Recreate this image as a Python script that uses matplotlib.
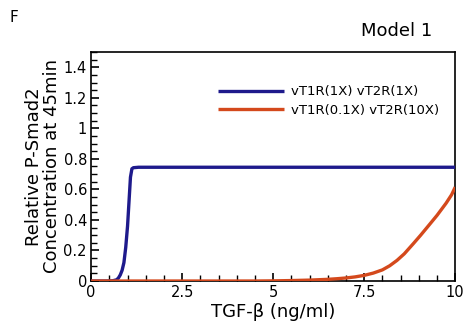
import matplotlib
matplotlib.use("Agg")
import matplotlib.pyplot as plt
from matplotlib.ticker import MultipleLocator

# TGF-beta dose (ng/ml) and relative P-Smad2 at 45 min
x_wt = [0, 0.5, 0.6, 0.7, 0.75, 0.8, 0.85, 0.9, 0.95, 1.0, 1.04, 1.08, 1.12, 1.16, 1.3, 2.0, 5.0, 10.0]
y_wt = [0, 0, 0.002, 0.008, 0.02, 0.04, 0.07, 0.12, 0.22, 0.36, 0.52, 0.68, 0.735, 0.742, 0.745, 0.745, 0.745, 0.745]

x_mut = [0, 4.5, 5.0, 5.5, 6.0, 6.5, 6.75, 7.0, 7.25, 7.5, 7.75, 8.0, 8.2, 8.4, 8.6, 8.85, 9.05, 9.3, 9.5, 9.75, 9.9, 10.0]
y_mut = [0, 0, 0.001, 0.003, 0.006, 0.011, 0.015, 0.02, 0.027, 0.037, 0.052, 0.073, 0.1, 0.135, 0.178, 0.245, 0.3, 0.372, 0.43, 0.51, 0.565, 0.615]

labels = ["vT1R(1X) vT2R(1X)", "vT1R(0.1X) vT2R(10X)"]
colors = ["#1e1a8c", "#d4491c"]

xticks = [0, 2.5, 5, 7.5, 10]
xticklabels = ["0", "2.5", "5", "7.5", "10"]
yticks = [0, 0.2, 0.4, 0.6, 0.8, 1.0, 1.2, 1.4]
yticklabels = ["0", "0.2", "0.4", "0.6", "0.8", "1", "1.2", "1.4"]

plt.rcParams['font.family'] = ['DejaVu Sans']

fig = plt.figure(figsize=(4.65, 3.31), dpi=100)
ax = fig.add_axes([0.196, 0.151, 0.783, 0.692])

ax.plot(x_wt, y_wt, color=colors[0], lw=2.4, label=labels[0], solid_capstyle='butt', zorder=3)
ax.plot(x_mut, y_mut, color=colors[1], lw=2.4, label=labels[1], solid_capstyle='butt', zorder=3)

ax.set_xlim(0, 10)
ax.set_ylim(0, 1.5)
ax.set_xticks(xticks)
ax.set_xticklabels(xticklabels)
ax.set_yticks(yticks)
ax.set_yticklabels(yticklabels)
ax.xaxis.set_minor_locator(MultipleLocator(0.5))
ax.yaxis.set_minor_locator(MultipleLocator(0.05))
ax.tick_params(which='major', direction='in', length=6, width=1.2, labelsize=10.5, pad=3, top=False, right=False)
ax.tick_params(which='minor', direction='in', length=4, width=1.0, top=False, right=False)
for s in ax.spines.values():
    s.set_linewidth(1.2)

ax.set_xlabel("TGF-β (ng/ml)", fontsize=13, labelpad=2)
ax.set_ylabel("Relative P-Smad2\nConcentration at 45min", fontsize=13, labelpad=2, linespacing=0.95)

ax.legend(loc='upper right', bbox_to_anchor=(0.98, 0.895), frameon=False, fontsize=9.5,
          handlelength=5.0, handletextpad=0.5, labelspacing=0.4, borderaxespad=0.3)

fig.text(0.02, 0.935, "F", fontsize=11)
fig.text(0.93, 0.89, "Model 1", fontsize=13, ha='right')

fig.savefig("out.png", dpi=100)
